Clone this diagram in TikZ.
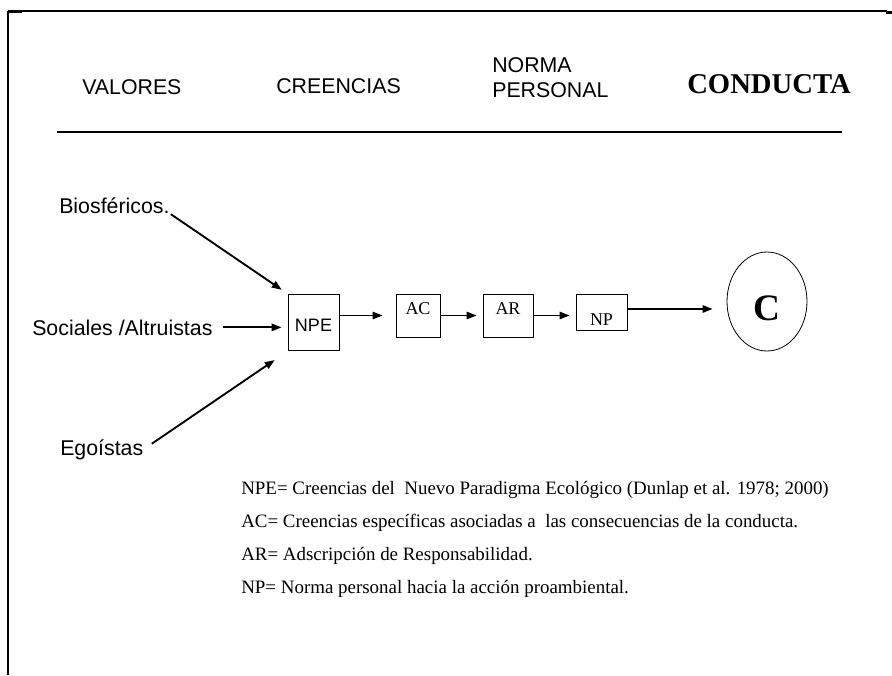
\documentclass[tikz,border=0pt]{standalone}
\usepackage{fontspec}
\setmainfont{Liberation Serif}
\setsansfont{Liberation Sans}
\usetikzlibrary{arrows.meta,shapes.geometric}

\begin{document}
\begin{tikzpicture}[x=0.75pt, y=-0.75pt, >={Triangle[length=7.5pt,width=5.5pt]},
    header/.style={font=\sffamily\fontsize{16}{18.75}\selectfont, inner sep=0pt, anchor=base west},
    source/.style={font=\sffamily\fontsize{16}{19}\selectfont, inner sep=0pt, anchor=base west},
    block/.style={draw, line width=0.6pt, inner sep=0pt, align=center, font=\fontsize{13.5}{16}\selectfont},
    legend/.style={font=\fontsize{14.2}{17}\selectfont, inner sep=0pt, anchor=base west},
    link/.style={->, line width=1.4pt}]
    \useasboundingbox (0,0) rectangle (892,675);

    % Frame and rule
    \draw [line width=1.5pt] (8,675) -- (8,11);
    \draw [line width=1pt] (8,11) -- (887,11);
    \draw [line width=2pt] (8,12) -- (22,12);
    \draw [line width=2.2pt] (886,12.5) -- (892,12.5);
    \draw [line width=1.5pt] (57,132) -- (842,132);

    % Headers
    \node [header] (valores) at (82,94) {VALORES};
    \node [header] (creencias) at (276,93) {CREENCIAS};
    \node [header, anchor=north west, align=left] (norma) at (492,57) {NORMA\\PERSONAL};
    \node [header, font=\rmfamily\bfseries\fontsize{21.5}{24}\selectfont] (conducta) at (687,93) {CONDUCTA};

    % Nodes {bio, soc, ego, npe, ac, ar, np, cc}
    \node [source] (bio) at (59,213) {Biosféricos.};
    \node [source] (soc) at (32,335) {Sociales /Altruistas};
    \node [source] (ego) at (60,455) {Egoístas};

    \node [block, text width=38.25pt, text height=28pt, text depth=14.5pt,
           font=\sffamily\fontsize{13.5}{16}\selectfont] (npe) at (313.5,322.5) {NPE};
    \node [block, text width=33pt, text height=15pt, text depth=17.25pt]     (ac) at (418,315.5) {AC};
    \node [block, text width=37.5pt, text height=15pt, text depth=17.25pt]   (ar) at (508,315.5) {AR};
    \node [block, text width=38.25pt, text height=23.25pt, text depth=3.75pt] (np) at (601.5,312) {NP};
    \node [draw, ellipse, line width=0.6pt, inner sep=0pt, minimum width=60pt, minimum height=74.25pt,
           text height=29pt, text depth=0pt, font=\bfseries\fontsize{28}{30}\selectfont] (cc) at (767,301.5) {C};

    % Paths
    \path [link] (bio.south east) edge [shorten <=1pt, shorten >=5.25pt] (npe.north west);
    \path [link] (soc.east) edge [shorten <=7.5pt, shorten >=4.5pt] (soc.east -| npe.west);
    \path [link] (ego.east) edge [shorten <=7.5pt, shorten >=11.7pt] (npe.south west);
    \path [link] (npe.east |- ac.west) edge [shorten >=9.75pt] (ac.west);
    \path [link] (ac.east) edge [shorten >=4.5pt] (ar.west);
    \path [link] (ar.east) edge [shorten >=4.5pt] (ar.east -| np.west);
    \path [link] ([yshift=2.25pt]np.east) edge [shorten >=10.5pt] ([yshift=2.25pt]np.east -| cc.west);

    % Legend
    \node [legend] (lnpe) at (241,494) {NPE= Creencias del\ \ Nuevo Paradigma Ecológico (Dunlap et al. 1978; 2000)};
    \node [legend] (lac)  at (241,527) {AC= Creencias específicas asociadas a\ \ las consecuencias de la conducta.};
    \node [legend] (lar)  at (241,560) {AR= Adscripción de Responsabilidad.};
    \node [legend] (lnp)  at (241,593) {NP= Norma personal hacia la acción proambiental.};
\end{tikzpicture}
\end{document}
